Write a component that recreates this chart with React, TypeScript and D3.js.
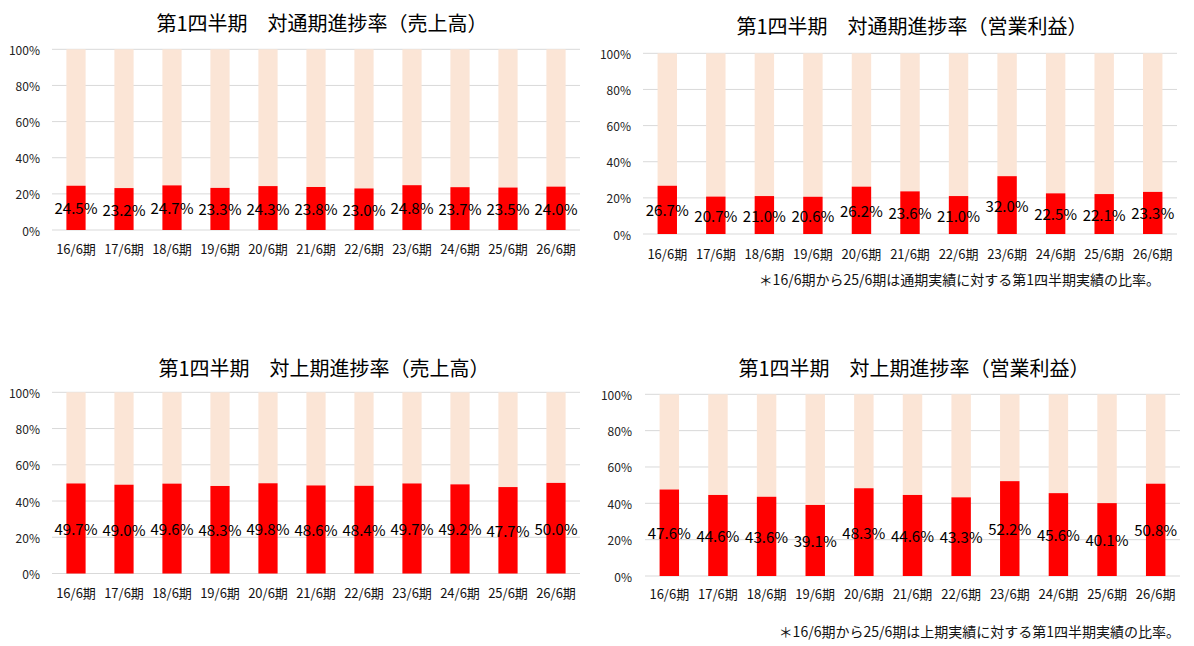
import React from "react";
import * as d3 from "d3";

const categories = ["16/6期", "17/6期", "18/6期", "19/6期", "20/6期", "21/6期", "22/6期", "23/6期", "24/6期", "25/6期", "26/6期"];
const salesFullYear = [24.5, 23.2, 24.7, 23.3, 24.3, 23.8, 23.0, 24.8, 23.7, 23.5, 24.0];
const profitFullYear = [26.7, 20.7, 21.0, 20.6, 26.2, 23.6, 21.0, 32.0, 22.5, 22.1, 23.3];
const salesHalfYear = [49.7, 49.0, 49.6, 48.3, 49.8, 48.6, 48.4, 49.7, 49.2, 47.7, 50.0];
const profitHalfYear = [47.6, 44.6, 43.6, 39.1, 48.3, 44.6, 43.3, 52.2, 45.6, 40.1, 50.8];
const yTicks = [0, 20, 40, 60, 80, 100];

const titles = [
  "第1四半期　対通期進捗率（売上高）",
  "第1四半期　対通期進捗率（営業利益）",
  "第1四半期　対上期進捗率（売上高）",
  "第1四半期　対上期進捗率（営業利益）",
];
const footnoteFull = "＊16/6期から25/6期は通期実績に対する第1四半期実績の比率。";
const footnoteHalf = "＊16/6期から25/6期は上期実績に対する第1四半期実績の比率。";

const FONT = "'Noto Sans CJK JP', 'Noto Sans', sans-serif";
const RED = "#FF0000";
const LIGHT = "#FBE5D6";
const GRID = "#D9D9D9";

type Panel = {
  title: string;
  values: number[];
  x0: number;
  x1: number;
  yTop: number;
  yBottom: number;
  titleX: number;
  titleY: number;
  tickX: number;
  catY: number;
  footnote?: string;
  footX?: number;
  footY?: number;
};

const panels: Panel[] = [
  { title: titles[0], values: salesFullYear, x0: 52, x1: 580, yTop: 49.3, yBottom: 230, titleX: 322, titleY: 22, tickX: 40, catY: 248 },
  { title: titles[1], values: profitFullYear, x0: 643, x1: 1177, yTop: 53.3, yBottom: 234, titleX: 912, titleY: 25, tickX: 631, catY: 253, footnote: footnoteFull, footX: 1160, footY: 279 },
  { title: titles[2], values: salesHalfYear, x0: 52, x1: 580, yTop: 392.3, yBottom: 573.5, titleX: 324, titleY: 367, tickX: 40, catY: 592 },
  { title: titles[3], values: profitHalfYear, x0: 645, x1: 1180, yTop: 394.3, yBottom: 576, titleX: 914, titleY: 367, tickX: 632, catY: 593, footnote: footnoteHalf, footX: 1180, footY: 631 },
];

function ChartPanel({ p }: { p: Panel }) {
  const x = d3.scaleBand<string>().domain(categories).range([p.x0, p.x1]).paddingInner(0.6).paddingOuter(0.3);
  const y = d3.scaleLinear().domain([0, 100]).range([p.yBottom, p.yTop]);
  const bw = x.bandwidth();
  return (
    <g>
      <text x={p.titleX} y={p.titleY} textAnchor="middle" dominantBaseline="central" fontSize={20} fontWeight={400} fill="#000" fontFamily={FONT}>
        {p.title}
      </text>
      {yTicks.map((t) => (
        <g key={t}>
          <line x1={p.x0} x2={p.x1} y1={y(t)} y2={y(t)} stroke={GRID} strokeWidth={1} />
          <text x={p.tickX} y={y(t)} textAnchor="end" dominantBaseline="central" fontSize={12} fill="#222" fontFamily={FONT}>
            {t}%
          </text>
        </g>
      ))}
      {categories.map((c, i) => {
        const v = p.values[i];
        const bx = x(c)!;
        return (
          <g key={c}>
            <rect x={bx} y={y(100)} width={bw} height={y(v) - y(100)} fill={LIGHT} />
            <rect x={bx} y={y(v)} width={bw} height={y(0) - y(v)} fill={RED} />
            <text x={bx + bw / 2} y={y(v / 2)} textAnchor="middle" dominantBaseline="central" fontSize={15} fill="#000" fontFamily={FONT}>
              {v.toFixed(1)}%
            </text>
            <text x={bx + bw / 2} y={p.catY} textAnchor="middle" dominantBaseline="central" fontSize={13} fill="#111" fontFamily={FONT}>
              {c}
            </text>
          </g>
        );
      })}
      {p.footnote && (
        <text x={p.footX} y={p.footY} textAnchor="end" dominantBaseline="central" fontSize={14} fill="#111" fontFamily={FONT}>
          {p.footnote}
        </text>
      )}
    </g>
  );
}

export default function App() {
  return (
    <svg width={1194} height={646} style={{ position: "absolute", left: 0, top: 0, background: "#fff" }}>
      <rect x={0} y={0} width={1194} height={646} fill="#fff" />
      {panels.map((p, i) => (
        <ChartPanel key={i} p={p} />
      ))}
    </svg>
  );
}
